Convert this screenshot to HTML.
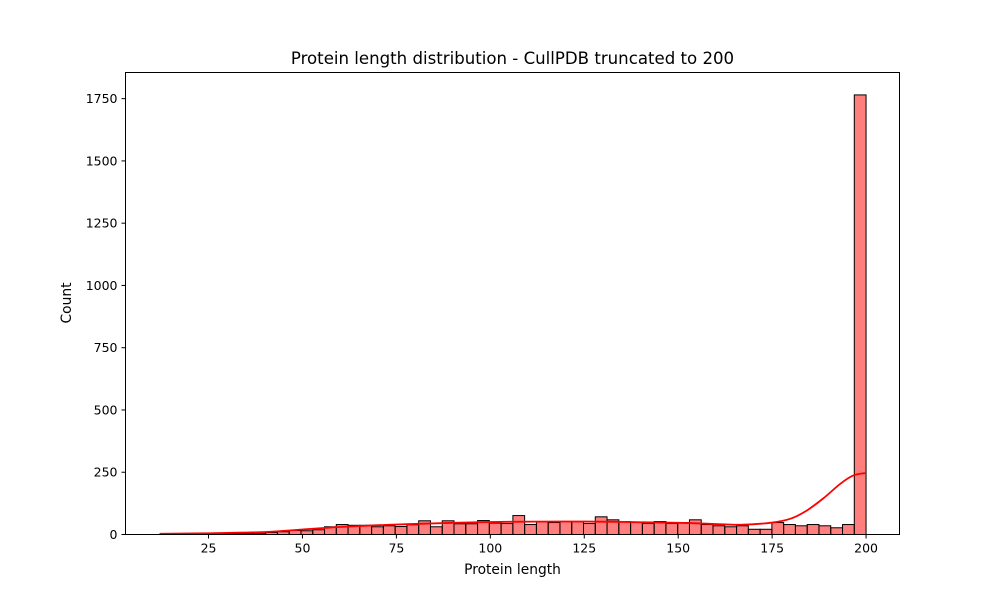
<!DOCTYPE html>
<html><head><meta charset="utf-8"><style>
body{margin:0;background:#fff;}
svg text{font-family:"DejaVu Sans","Liberation Sans",sans-serif;fill:#000;}
</style></head><body>
<svg id="chart" width="1000" height="600" xmlns="http://www.w3.org/2000/svg">
<rect width="1000" height="600" fill="#fff"/>
<g id="bars"></g>
<g id="kde"></g>
<g id="axes"></g>
<text x="512.5" y="64" font-size="16.6" text-anchor="middle">Protein length distribution - CullPDB truncated to 200</text>
<text x="512.5" y="574" font-size="13.8" text-anchor="middle">Protein length</text>
<text transform="translate(71,303) rotate(-90)" font-size="13.8" text-anchor="middle">Count</text>
</svg>
<script>
const binStart = 12;
const binEnd = 200;
const counts = [1,0,1,1,2,2,3,4,5,8,11,16,15,19,31,40,37,37,31,35,32,39,55,31,55,43,43,56,46,44,76,40,51,48,52,52,44,71,59,52,48,44,52,44,48,59,40,35,31,35,21,21,48,40,35,40,35,27,40,1765];
const kdeX = [12,25,40,50,60,75,100,125,150,160,166.5,174.5,179.8,184.2,188.7,193.1,196.6,200];
const kdeY = [3,5,10,20,30,40,50,52,47,42,39,47,63,96,146,203,237,247];
const xTicks = [25,50,75,100,125,150,175,200];
const yTicks = [0,250,500,750,1000,1250,1500,1750];

const L=125.5,R=899.5,T=72.5,B=534.5;
const xMin=2.9,xMax=208.9,yMax=1855;
const xs=v=>L+(v-xMin)/(xMax-xMin)*(R-L);
const ys=v=>B-v/yMax*(B-T);
const NS="http://www.w3.org/2000/svg";
function mk(tag,attrs,parent){const e=document.createElementNS(NS,tag);for(const k in attrs)e.setAttribute(k,attrs[k]);parent.appendChild(e);return e;}

const bw=(binEnd-binStart)/counts.length;
const gb=document.getElementById('bars');
counts.forEach((c,i)=>{
  const x0=xs(binStart+i*bw),x1=xs(binStart+(i+1)*bw);
  const r=mk('rect',{x:x0,y:ys(c),width:x1-x0,height:ys(0)-ys(c),fill:'rgba(255,0,0,0.5)',stroke:'#000','stroke-width':1},gb);
  
  
});

const pts=kdeX.map((x,i)=>[xs(x),ys(kdeY[i])]);
let d=`M${pts[0][0]},${pts[0][1]}`;
for(let i=0;i<pts.length-1;i++){
  const p0=pts[Math.max(0,i-1)],p1=pts[i],p2=pts[i+1],p3=pts[Math.min(pts.length-1,i+2)];
  d+=` C${p1[0]+(p2[0]-p0[0])/6},${p1[1]+(p2[1]-p0[1])/6} ${p2[0]-(p3[0]-p1[0])/6},${p2[1]-(p3[1]-p1[1])/6} ${p2[0]},${p2[1]}`;
}
const kp=mk('path',{d:d,fill:'none',stroke:'#ff0000','stroke-width':1.8},document.getElementById('kde'));



const ga=document.getElementById('axes');
mk('rect',{x:L,y:T,width:R-L,height:B-T,fill:'none',stroke:'#000','stroke-width':1},ga);
xTicks.forEach(t=>{
  const x=xs(t);
  mk('line',{x1:x,x2:x,y1:B,y2:B+4,stroke:'#000'},ga);
  const tx=mk('text',{x:x,y:B+18,'font-size':12.5,'text-anchor':'middle'},ga);
  tx.textContent=t;
  
  
});
yTicks.forEach(t=>{
  const y=ys(t);
  mk('line',{x1:L-4,x2:L,y1:y,y2:y,stroke:'#000'},ga);
  const tx=mk('text',{x:L-8,y:y+4.5,'font-size':12.5,'text-anchor':'end'},ga);
  tx.textContent=t;
  
  
});
</script>
</body></html>
